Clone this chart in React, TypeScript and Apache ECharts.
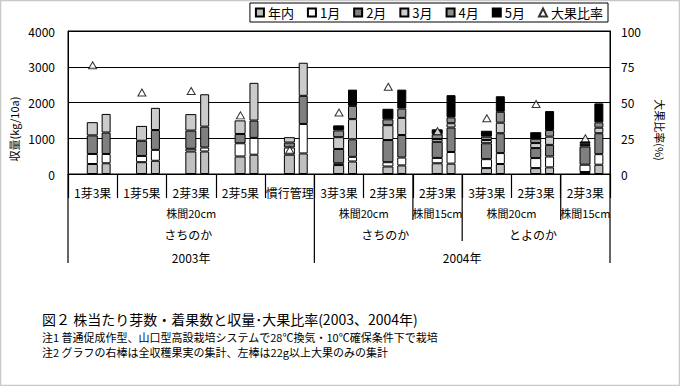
import React, { useEffect, useRef } from 'react';
import * as echarts from 'echarts';

const categories = ['1芽3果', '1芽5果', '2芽3果', '2芽5果', '慣行管理', '3芽3果', '2芽3果', '2芽3果', '3芽3果', '2芽3果', '2芽3果'];
const monthNames = ['年内', '1月', '2月', '3月', '4月', '5月'];
const ratioName = '大果比率';

// left bar: 22g以上大果のみ (kg/10a)
const bigNennai = [280, 330, 630, 490, 540, 250, 210, 300, 165, 165, 55];
const bigJan = [280, 175, 75, 370, 200, 50, 120, 150, 250, 280, 205];
const bigFeb = [520, 425, 510, 260, 140, 400, 620, 450, 445, 280, 510];
const bigMar = [370, 415, 460, 380, 150, 330, 415, 80, 90, 140, 45];
const bigApr = [null, null, null, null, null, 190, 165, 130, 95, 120, 45];
const bigMay = [null, null, null, null, null, 140, 295, 140, 165, 185, 45];

// right bar: 全収穫果実 (kg/10a)
const totNennai = [300, 370, 630, 540, 575, 350, 240, 290, 280, 185, 260];
const totJan = [260, 305, 110, 470, 825, 130, 220, 325, 305, 305, 295];
const totFeb = [600, 555, 585, 485, 787, 490, 630, 685, 555, 325, 585];
const totMar = [520, 620, 905, 1055, 925, 565, 480, 120, 295, 230, 155];
const totApr = [null, null, null, null, null, 370, 260, 165, 305, 185, 150];
const totMay = [null, null, null, null, null, 455, 530, 620, 435, 530, 530];

// 大果比率 (%)
const bigRatio = [76, 57, 58, 41, 17, 43, 61, 30, 39, 49, 25];

const leftAxis = { min: 0, max: 4000, interval: 1000 };
const rightAxis = { min: 0, max: 100, interval: 25 };

// hierarchical category labels: [text, fromGroup, toGroup]
const spacingLabels: [string, number, number][] = [
  ['株間20cm', 0, 5], ['株間20cm', 5, 7], ['株間15cm', 7, 8], ['株間20cm', 8, 10], ['株間15cm', 10, 11],
];
const varietyLabels: [string, number, number][] = [
  ['さちのか', 0, 5], ['さちのか', 5, 8], ['とよのか', 8, 11],
];
const yearLabels: [string, number, number][] = [
  ['2003年', 0, 5], ['2004年', 5, 11],
];
// long separators: [boundary index, bottom y]
const separators: [number, number][] = [[0, 263], [5, 263], [7, 220], [8, 241], [10, 220], [11, 263]];

const captionTitle = '図２ 株当たり芽数・着果数と収量･大果比率(2003、2004年)';
const captionNote1 = '注1 普通促成作型、山口型高設栽培システムで28℃換気・10℃確保条件下で栽培';
const captionNote2 = '注2 グラフの右棒は全収穫果実の集計、左棒は22g以上大果のみの集計';

const colors = ['#c0c0c0', '#ffffff', '#7f7f7f', '#cbcbcb', '#8e8e8e', '#000000'];
const FONT = '"Noto Sans CJK JP", "Noto Sans", sans-serif';

const G = { left: 68, top: 31, width: 542, height: 143 };

export default function App() {
  const ref = useRef<HTMLDivElement>(null);
  useEffect(() => {
    if (!ref.current) return;
    const chart = echarts.init(ref.current, null, { renderer: 'svg' });
    const bigData = [bigNennai, bigJan, bigFeb, bigMar, bigApr, bigMay];
    const totData = [totNennai, totJan, totFeb, totMar, totApr, totMay];
    const n = categories.length;
    const bx = (k: number) => G.left + (k * G.width) / n;
    const axisY = G.top + G.height;

    const barBase = { type: 'bar', barGap: '35%', itemStyle: { borderColor: '#000', borderWidth: 1 } };
    const series: any[] = [
      { ...barBase, name: '_spacer', stack: 'D', barWidth: 9, data: categories.map(() => null) },
      ...monthNames.map((m, i) => ({
        ...barBase, name: m, stack: 'L', barWidth: 11, data: bigData[i],
        itemStyle: { color: colors[i], borderColor: '#000', borderWidth: 1 },
      })),
      ...monthNames.map((m, i) => ({
        ...barBase, name: m, stack: 'R', barWidth: 9, data: totData[i],
        itemStyle: { color: colors[i], borderColor: '#000', borderWidth: 1 },
      })),
      {
        type: 'scatter', name: ratioName, yAxisIndex: 1, symbol: 'triangle', symbolSize: [8, 7],
        itemStyle: { color: '#fff', borderColor: '#000', borderWidth: 1 }, data: bigRatio, z: 5,
      },
    ];

    const graphic: any[] = [];
    graphic.push({ type: 'rect', shape: { x: 0.5, y: 0.5, width: 679, height: 385 }, style: { fill: 'none', stroke: '#c8c8c8', lineWidth: 1.5 }, silent: true });
    separators.forEach(([k, y2]) => {
      graphic.push({ type: 'line', shape: { x1: bx(k), y1: axisY, x2: bx(k), y2 }, style: { stroke: '#000', lineWidth: 1.2 } });
    });
    const txt = (text: string, x: number, y: number, size = 12, extra: any = {}) => ({
      type: 'text', x, y, ...extra,
      style: { text, fontSize: size, fontFamily: FONT, fill: '#000', align: 'center', verticalAlign: 'middle' },
    });
    spacingLabels.forEach(([t, a, b]) => graphic.push(txt(t, (bx(a) + bx(b)) / 2, 213, 11)));
    varietyLabels.forEach(([t, a, b]) => graphic.push(txt(t, (bx(a) + bx(b)) / 2 - 3, 234, 12)));
    yearLabels.forEach(([t, a, b]) => graphic.push(txt(t, (bx(a) + bx(b)) / 2, 257, 12)));
    graphic.push(txt('収量(kg/10a)', 14, 129, 11, { rotation: Math.PI / 2 }));
    graphic.push(txt('大果比率(%)', 660, 130, 11, { rotation: -Math.PI / 2 }));
    const cap = (text: string, y: number, size: number, lh: number) => ({
      type: 'text', x: 42, y, style: { text, fontSize: size, fontFamily: FONT, fill: '#000', verticalAlign: 'middle', lineHeight: lh },
    });
    graphic.push(cap(captionTitle, 319, 14, 15));
    graphic.push(cap(captionNote1, 337, 11, 12));
    graphic.push(cap(captionNote2, 352, 11, 12));

    chart.setOption({
      animation: false,
      backgroundColor: '#fff',
      textStyle: { fontFamily: FONT, color: '#000' },
      grid: { ...G, show: true, borderColor: '#000', borderWidth: 1, backgroundColor: 'transparent' },
      legend: {
        data: [...monthNames.map((m) => ({ name: m, icon: 'rect' })), { name: ratioName, icon: 'triangle' }],
        right: 72, top: 3, padding: [3, 5], itemGap: 13,
        itemWidth: 8, itemHeight: 8,
        borderColor: '#000', borderWidth: 1,
        textStyle: { fontSize: 13, fontFamily: FONT, color: '#000', padding: [0, 0, 0, -1] },
      },
      xAxis: {
        type: 'category', data: categories,
        axisLine: { lineStyle: { color: '#000', width: 1 } },
        axisTick: { show: true, interval: 0, length: 24, lineStyle: { color: '#000', width: 1.2 } },
        axisLabel: { interval: 0, margin: 12, fontSize: 12, color: '#000', fontFamily: FONT },
      },
      yAxis: [
        {
          type: 'value', ...leftAxis,
          axisLine: { show: true, lineStyle: { color: '#000' } }, axisTick: { show: false },
          axisLabel: { margin: 13, fontSize: 12, color: '#000', fontFamily: FONT, formatter: (v: number) => String(v) },
          splitLine: { show: true, lineStyle: { color: '#000', width: 1 } },
        },
        {
          type: 'value', ...rightAxis, position: 'right',
          axisLine: { show: true, lineStyle: { color: '#000' } }, axisTick: { show: false },
          axisLabel: { margin: 11, fontSize: 12, color: '#000', fontFamily: FONT, formatter: (v: number) => String(v) },
          splitLine: { show: false },
        },
      ],
      series,
      graphic,
    });
    return () => chart.dispose();
  }, []);
  return <div ref={ref} style={{ position: 'fixed', left: 0, top: 0, width: 680, height: 386 }} />;
}
